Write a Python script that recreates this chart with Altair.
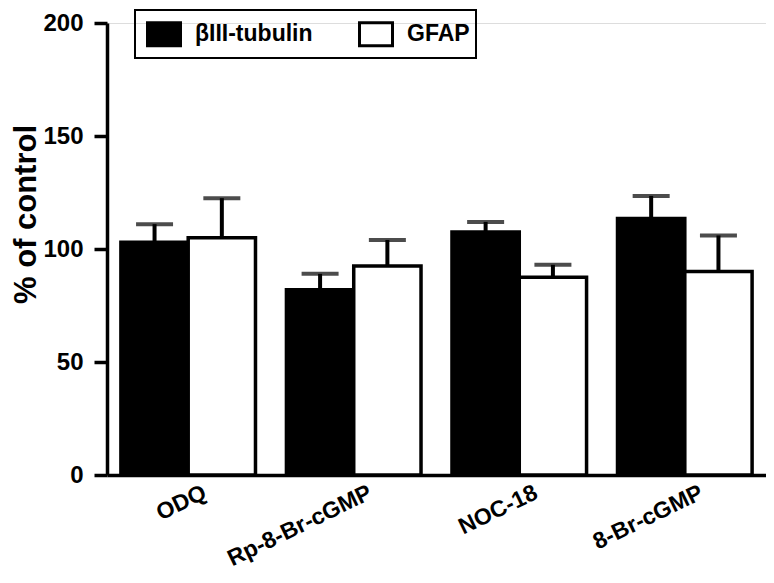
import altair as alt
import pandas as pd

groups = ["ODQ", "Rp-8-Br-cGMP", "NOC-18", "8-Br-cGMP"]
series = ["βIII-tubulin", "GFAP"]
tubulin_mean = [103, 82, 107.5, 113.5]
tubulin_sem = [8, 7, 4.5, 10]
gfap_mean = [105, 92.5, 87.5, 90]
gfap_sem = [17.5, 11.5, 5.5, 16]
y_ticks = [0, 50, 100, 150, 200]

rows = []
for i, g in enumerate(groups):
    rows.append({"group": g, "series": series[0], "mean": tubulin_mean[i],
                 "top": tubulin_mean[i] + tubulin_sem[i]})
    rows.append({"group": g, "series": series[1], "mean": gfap_mean[i],
                 "top": gfap_mean[i] + gfap_sem[i]})
df = pd.DataFrame(rows)

FONT = "Liberation Sans"

x_enc = alt.X("group:N", sort=groups,
              scale=alt.Scale(paddingInner=0.187, paddingOuter=0.084),
              axis=alt.Axis(title=None, labelAngle=-26, labelAlign="right",
                            labelBaseline="top", labelFont=FONT,
                            labelFontSize=23, labelFontWeight="bold",
                            labelColor="black", ticks=False, tickSize=0,
                            labelPadding=6, labelOffset=12,
                            domainColor="black", domainWidth=3.5))
xo_enc = alt.XOffset("series:N", sort=series)
y_scale = alt.Scale(domain=[0, 200], nice=False, zero=True)
y_axis = alt.Axis(title="% of control", values=y_ticks, grid=False,
                  titleFont=FONT, titleFontSize=31, titleFontWeight="bold",
                  titleColor="black", titleAngle=270, titleAlign="center",
                  titleBaseline="alphabetic", titleX=-72, titleY=191,
                  labelFont=FONT, labelFontSize=24, labelFontWeight="bold",
                  labelColor="black", labelPadding=11, tickSize=13,
                  tickWidth=3.5, tickColor="black", domainColor="black",
                  domainWidth=3.5)

base = alt.Chart(df)

bars = base.mark_bar(stroke="black", strokeWidth=3.5).encode(
    x=x_enc,
    xOffset=xo_enc,
    y=alt.Y("mean:Q", scale=y_scale, axis=y_axis),
    color=alt.Color("series:N", sort=series,
                    scale=alt.Scale(domain=series, range=["black", "white"]),
                    legend=alt.Legend(
                        title=None, orient="none", legendX=28, legendY=-13,
                        direction="horizontal",
                        symbolType="M-1,-0.7H1V0.7H-1Z", symbolSize=1089,
                        symbolStrokeColor="black", symbolStrokeWidth=3,
                        symbolOffset=5,
                        labelFont=FONT, labelFontSize=23,
                        labelFontWeight="bold", labelColor="black",
                        labelOffset=13, columnPadding=40,
                        padding=6, strokeColor="black")),
)

stems = base.mark_rule(color="black", strokeWidth=4).encode(
    x=alt.X("group:N", sort=groups),
    xOffset=xo_enc,
    y=alt.Y("mean:Q", scale=y_scale),
    y2="top:Q",
)

caps = base.mark_tick(color="black", size=37, thickness=4).encode(
    x=alt.X("group:N", sort=groups),
    xOffset=xo_enc,
    y=alt.Y("top:Q", scale=y_scale),
)

chart = alt.layer(bars, stems, caps).properties(
    width=659, height=452,
    autosize=alt.AutoSizeParams(type="none"),
    padding={"left": 99, "top": 15, "right": 0, "bottom": 100},
).configure_view(stroke=None).configure(background="white").configure_legend(
    strokeWidth=2
)

chart.save("out.html", embed_options={"renderer": "svg", "actions": False})
